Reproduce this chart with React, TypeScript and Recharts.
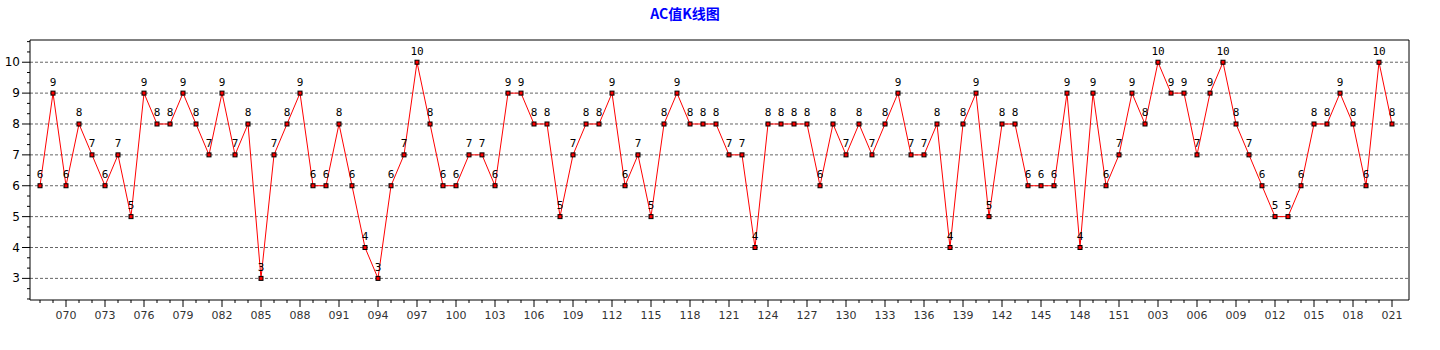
import { LineChart, Line, XAxis, YAxis, ReferenceLine } from "recharts";

const PERIODS = [
  "068", "069", "070", "071", "072", "073", "074", "075", "076", "077",
  "078", "079", "080", "081", "082", "083", "084", "085", "086", "087",
  "088", "089", "090", "091", "092", "093", "094", "095", "096", "097",
  "098", "099", "100", "101", "102", "103", "104", "105", "106", "107",
  "108", "109", "110", "111", "112", "113", "114", "115", "116", "117",
  "118", "119", "120", "121", "122", "123", "124", "125", "126", "127",
  "128", "129", "130", "131", "132", "133", "134", "135", "136", "137",
  "138", "139", "140", "141", "142", "143", "144", "145", "146", "147",
  "148", "149", "150", "151", "001", "002", "003", "004", "005", "006",
  "007", "008", "009", "010", "011", "012", "013", "014", "015", "016",
  "017", "018", "019", "020", "021",
];

const AC_VALUES = [
  6, 9, 6, 8, 7, 6, 7, 5, 9, 8,
  8, 9, 8, 7, 9, 7, 8, 3, 7, 8,
  9, 6, 6, 8, 6, 4, 3, 6, 7, 10,
  8, 6, 6, 7, 7, 6, 9, 9, 8, 8,
  5, 7, 8, 8, 9, 6, 7, 5, 8, 9,
  8, 8, 8, 7, 7, 4, 8, 8, 8, 8,
  6, 8, 7, 8, 7, 8, 9, 7, 7, 8,
  4, 8, 9, 5, 8, 8, 6, 6, 6, 9,
  4, 9, 6, 7, 9, 8, 10, 9, 9, 7,
  9, 10, 8, 7, 6, 5, 5, 6, 8, 8,
  9, 8, 6, 10, 8,
];

const Y_MAJOR = [3, 4, 5, 6, 7, 8, 9, 10];
const Y_TICKS = [
  2.333, 2.667, 3, 3.333, 3.667, 4, 4.333, 4.667, 5, 5.333, 5.667, 6, 6.333,
  6.667, 7, 7.333, 7.667, 8, 8.333, 8.667, 9, 9.333, 9.667, 10, 10.333, 10.667,
];

const data = PERIODS.map((p, i) => ({ period: p, ac: AC_VALUES[i] }));

const isMajor = (v: number) => Math.abs(v - Math.round(v)) < 0.01;

function YTick({ x, y, payload }: any) {
  const major = isMajor(payload.value);
  return (
    <g>
      <line x1={x - (major ? 8 : 3)} x2={x} y1={y} y2={y} stroke="#000" />
      {major && (
        <text x={x - 10} y={y + 4} textAnchor="end" fontSize={12} fill="#000"
          fontFamily="DejaVu Sans">
          {Math.round(payload.value)}
        </text>
      )}
    </g>
  );
}

function XTick({ x, y, payload, index }: any) {
  const i = payload.index ?? index;
  const major = i % 3 === 2;
  return (
    <g>
      <line x1={x} x2={x} y1={y} y2={y + (major ? 7 : 3)} stroke="#000" />
      {major && (
        <text x={x} y={y + 19} textAnchor="middle" fontSize={11} fill="#333"
          fontFamily="DejaVu Sans">
          {payload.value}
        </text>
      )}
    </g>
  );
}

function SquareDot({ cx, cy }: any) {
  if (cx == null || cy == null) return null;
  return <rect x={cx - 2} y={cy - 2} width={4} height={4} fill="#ff0000" stroke="#000" strokeWidth={1} />;
}

function ValueLabel({ x, y, value }: any) {
  return (
    <text x={x} y={y - 7.5} textAnchor="middle" fontSize={11} fill="#000"
      fontFamily="DejaVu Sans Mono">
      {value}
    </text>
  );
}

export default function App() {
  return (
    <div style={{ position: "absolute", left: 0, top: 0, width: 1440, height: 350, background: "#fff" }}>
      <div
        style={{
          position: "absolute",
          left: 585,
          top: 5,
          width: 200,
          textAlign: "center",
          color: "#0000ff",
          fontWeight: "bold",
          fontSize: 14,
          lineHeight: "16px",
          fontFamily: "'Noto Sans CJK SC', sans-serif",
        }}
      >
        AC值K线图
      </div>
      <LineChart
        width={1440}
        height={350}
        data={data}
        margin={{ top: 39, right: 30, bottom: 20, left: 0 }}
      >
        <XAxis
          dataKey="period"
          xAxisId="bottom"
          interval={0}
          padding={{ left: 10, right: 17 }}
          tickSize={0}
          tickMargin={0}
          tickLine={false}
          tick={<XTick />}
          axisLine={{ stroke: "#000" }}
          height={30}
        />
        <XAxis
          dataKey="period"
          xAxisId="top"
          orientation="top"
          padding={{ left: 10, right: 17 }}
          tick={false}
          tickLine={false}
          axisLine={{ stroke: "#000" }}
          height={1}
        />
        <YAxis
          yAxisId="left"
          domain={[2.3, 10.72]}
          ticks={Y_TICKS}
          interval={0}
          tickSize={0}
          tickMargin={0}
          tickLine={false}
          tick={<YTick />}
          axisLine={{ stroke: "#000" }}
          width={30}
          allowDataOverflow
        />
        <YAxis
          yAxisId="right"
          orientation="right"
          domain={[2.3, 10.72]}
          tick={false}
          tickLine={false}
          axisLine={{ stroke: "#000" }}
          width={1}
        />
        {Y_MAJOR.map((v) => (
          <ReferenceLine
            key={v}
            y={v}
            yAxisId="left"
            xAxisId="bottom"
            stroke="#666"
            strokeDasharray="3 2"
          />
        ))}
        <Line
          type="linear"
          dataKey="ac"
          xAxisId="bottom"
          yAxisId="left"
          stroke="#ff0000"
          strokeWidth={1}
          dot={<SquareDot />}
          activeDot={false}
          label={<ValueLabel />}
          isAnimationActive={false}
        />
      </LineChart>
    </div>
  );
}
